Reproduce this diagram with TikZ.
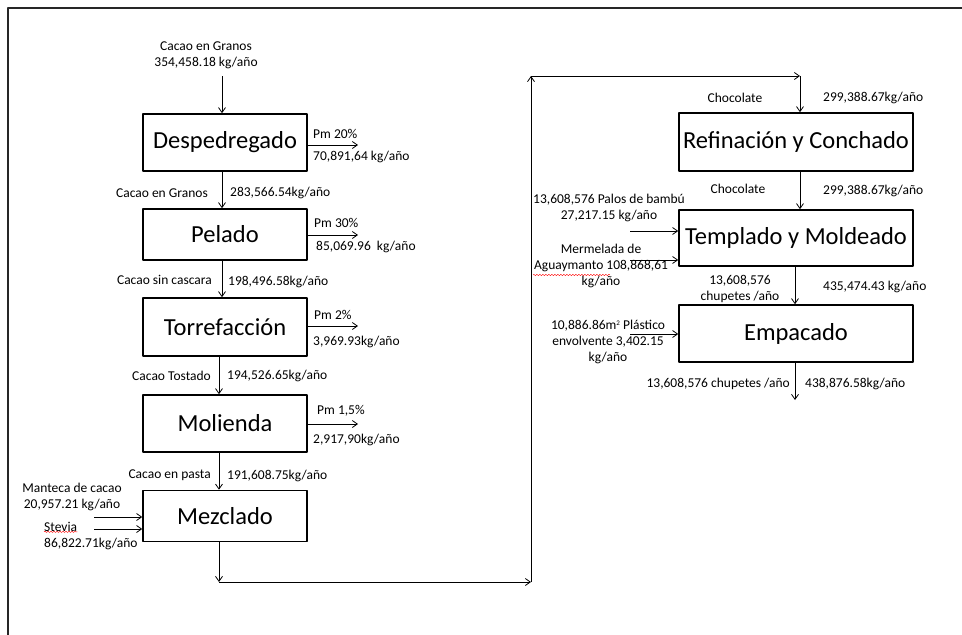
\documentclass[tikz,border=0pt]{standalone}
\usepackage{fontspec}
\setmainfont{Carlito}
\usetikzlibrary{arrows.meta,decorations.pathmorphing}
\begin{document}
\begin{tikzpicture}[x=1pt,y=-1pt,>={Straight Barb[length=5pt,width=7pt]}, line join=round,
  proc/.style={draw, line width=1.6pt, inner sep=0pt, minimum width=164pt, minimum height=56pt, font=\fontsize{24.5}{27}\selectfont},
  procw/.style={proc, minimum width=234pt},
  lbl/.style={inner sep=0pt, font=\fontsize{13.5}{16}\selectfont, align=center},
  flow/.style={->, line width=0.8pt},
  spell/.style={red, line width=0.4pt, decorate, decoration={snake, amplitude=0.7pt, segment length=3pt}}]
\useasboundingbox (0,0) rectangle (962,635);
\draw[line width=1.8pt, black!85] (8,635) -- (8,8) -- (962,8); % marco
% Columna izquierda
\node[proc, minimum height=57pt] (desp) at (225,142.5) {Despedregado};
\node[proc, minimum height=51pt] (pel) at (225,234.5) {Pelado};
\node[proc, minimum height=58pt] (tor) at (225,327) {Torrefacción};
\node[proc, minimum height=57pt] (mol) at (225,423.5) {Molienda};
\node[proc, minimum height=51pt] (mez) at (225,516) {Mezclado};
% Columna derecha
\node[procw, minimum height=58pt] (ref) at (796,142) {Refinación y Conchado};
\node[procw, minimum height=56pt] (tem) at (796,238) {Templado y Moldeado};
\node[procw, minimum height=57pt] (emp) at (796,333.5) {Empacado};
% puntos libres
\coordinate (ini) at (222,76);
\coordinate (o1) at (358,145);
\coordinate (o2) at (358,235);
\coordinate (o3) at (358,326);
\coordinate (o4) at (358,424);
\coordinate (mi1) at (94,517);
\coordinate (mi2) at (94,529);
\coordinate (c1) at (219,582);
\coordinate (c2) at (531,582);
\coordinate (c3) at (531,76);
\coordinate (c4) at (800,76);
\coordinate (ti1) at (630,231);
\coordinate (ti2) at (630,260);
\coordinate (ei1) at (630,334);
\coordinate (fin) at (795,400);
% flechas
\draw[flow] (ini) -- (ini |- desp.north);
\draw[flow] ([xshift=-3pt]desp.south) -- ([xshift=-3pt]pel.north);
\draw[flow] ([xshift=-3pt]pel.south) -- ([xshift=-3pt]tor.north);
\draw[flow] ([xshift=-6pt]tor.south) -- ([xshift=-6pt]mol.north);
\draw[flow] ([xshift=-6pt]mol.south) -- ([xshift=-6pt]mez.north);
\draw[flow] (desp.east |- o1) -- (o1);
\draw[flow] (pel.east |- o2) -- (o2);
\draw[flow] (tor.east |- o3) -- (o3);
\draw[flow] (mol.east |- o4) -- (o4);
\draw[flow] (mi1) -- (mi1 -| mez.west);
\draw[flow] (mi2) -- (mi2 -| mez.west);
\draw[flow] (mez.south -| c1) -- (c1);
\draw[flow] (c1) -- (c2);
\draw[flow] (c2) -- (c3);
\draw[flow] (c3) -- (c4);
\draw[flow] (c4) -- (c4 |- ref.north);
\draw[flow] ([xshift=4pt]ref.south) -- ([xshift=4pt]tem.north);
\draw[flow] (tem.south -| fin) -- (emp.north -| fin);
\draw[flow] (ti1) -- (ti1 -| tem.west);
\draw[flow] (ti2) -- (ti2 -| tem.west);
\draw[flow] (ei1) -- (ei1 -| emp.west);
\draw[flow] (emp.south -| fin) -- (fin);
% textos izquierda
\node[lbl] (in0) at (206,55) {Cacao en Granos\\354,458.18 kg/año};
\node[lbl, anchor=west] (pm1) at (313,134) {Pm 20\%};
\node[lbl, anchor=west] (kg1) at (313,157) {70,891,64 kg/año};
\node[lbl, anchor=east] (n1) at (208,193) {Cacao en Granos};
\node[lbl, anchor=west] (f1) at (230,193) {283,566.54kg/año};
\node[lbl, anchor=west] (pm2) at (314,223) {Pm 30\%};
\node[lbl, anchor=west] (kg2) at (316,247) {85,069.96\ \ kg/año};
\node[lbl, anchor=east] (n2) at (212,280) {Cacao sin cascara};
\node[lbl, anchor=west] (f2) at (228,282) {198,496.58kg/año};
\node[lbl, anchor=west] (pm3) at (314,315) {Pm 2\%};
\node[lbl, anchor=west] (kg3) at (313,342) {3,969.93kg/año};
\node[lbl, anchor=east] (n3) at (211,376) {Cacao Tostado};
\node[lbl, anchor=west] (f3) at (227,376) {194,526.65kg/año};
\node[lbl, anchor=west] (pm4) at (317,411) {Pm 1,5\%};
\node[lbl, anchor=west] (kg4) at (313,440) {2,917,90kg/año};
\node[lbl, anchor=east] (n4) at (211,475) {Cacao en pasta};
\node[lbl, anchor=west] (f4) at (227,476) {191,608.75kg/año};
\node[lbl] (mc) at (72,497) {Manteca de cacao\\20,957.21 kg/año};
\node[lbl, anchor=west] (stv) at (44,527) {Stevia};
\node[lbl, anchor=west] (stk) at (44,544) {86,822.71kg/año};
% textos derecha
\node[lbl] (ch1) at (735,98) {Chocolate};
\node[lbl, anchor=west] (r1) at (823,98) {299,388.67kg/año};
\node[lbl] (ch2) at (738,189) {Chocolate};
\node[lbl, anchor=west] (r2) at (823,191) {299,388.67kg/año};
\node[lbl] (pal) at (609,208) {13,608,576 Palos de bambú\\27,217.15 kg/año};
\node[lbl] (mer) at (601,266) {Mermelada de\\Aguaymanto 108,868,61\\kg/año};
\node[lbl] (chu) at (740,289) {13,608,576\\chupetes /año};
\node[lbl, anchor=west] (r3) at (823,287) {435,474.43 kg/año};
\node[lbl] (pla) at (608,342) {10,886.86m\raisebox{4pt}{\fontsize{7}{7}\selectfont 2} Plástico\\envolvente 3,402.15\\kg/año};
\node[lbl, anchor=east] (out1) at (790,384) {13,608,576 chupetes /año};
\node[lbl, anchor=west] (out2) at (805,384) {438,876.58kg/año};
% subrayado ortografico
\draw[spell] (stv.south west) -- (stv.south east);
\draw[spell] (533,275) -- (610,275);
\end{tikzpicture}
\end{document}
